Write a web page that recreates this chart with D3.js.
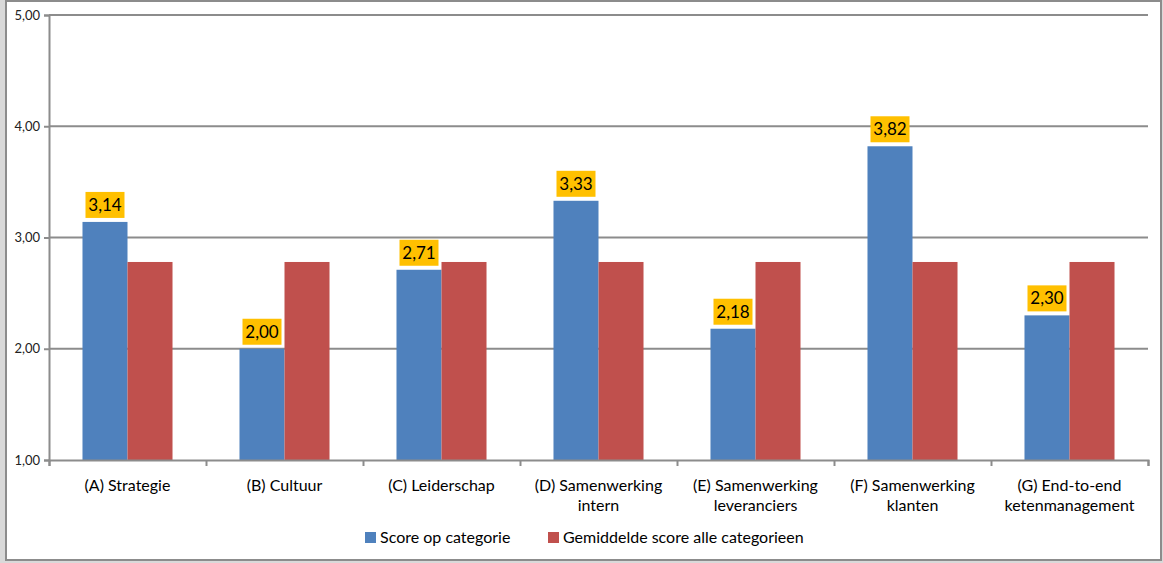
<!DOCTYPE html>
<html>
<head>
<meta charset="utf-8">
<script src="https://cdn.jsdelivr.net/npm/d3@7"></script>
<style>
  body { margin: 0; background: #fff; }
  svg { font-family: Lato, "Open Sans", sans-serif; }
</style>
</head>
<body>
<svg id="chart" width="1163" height="563"></svg>
<script>
// data
var categories = [
  ["(A) Strategie"],
  ["(B) Cultuur"],
  ["(C) Leiderschap"],
  ["(D) Samenwerking", "intern"],
  ["(E) Samenwerking", "leveranciers"],
  ["(F) Samenwerking", "klanten"],
  ["(G) End-to-end", "ketenmanagement"]
]
var scores = [3.14, 2.00, 2.71, 3.33, 2.18, 3.82, 2.30]
var average = [2.78, 2.78, 2.78, 2.78, 2.78, 2.78, 2.78]
var seriesNames = ["Score op categorie", "Gemiddelde score alle categorieen"]
var colors = ["#4f81bd", "#c0504d"]
var yTicks = [1, 2, 3, 4, 5]

var svg = d3.select("#chart")
var W = 1163, H = 563

// outer frame
svg.append("rect").attr("x", 0).attr("y", 0).attr("width", W).attr("height", H).attr("fill", "#d9d9d9")
svg.append("rect").attr("x", 6).attr("y", 1).attr("width", 1155).attr("height", 559)
  .attr("fill", "#fff").attr("stroke", "#8c8c8c").attr("stroke-width", 2)

var plotLeft = 49, plotRight = 1148, plotTop = 15, plotBottom = 460

var x = d3.scaleBand().domain(d3.range(categories.length)).range([plotLeft, plotRight])
var y = d3.scaleLinear().domain([1, 5]).range([plotBottom, plotTop])
var inner = d3.scaleBand().domain([0, 1]).range([0, x.bandwidth()]).paddingInner(0).paddingOuter(0.744)

// gridlines
svg.append("g").selectAll("line").data(yTicks.slice(1)).enter().append("line")
  .attr("x1", plotLeft).attr("x2", plotRight)
  .attr("y1", function(d) { return y(d) }).attr("y2", function(d) { return y(d) })
  .attr("stroke", "#8c8c8c").attr("stroke-width", 2)

// bars
var groups = svg.append("g").selectAll("g").data(categories).enter().append("g")
  .attr("transform", function(d, i) { return "translate(" + x(i) + ",0)" })

groups.append("rect")
  .attr("x", inner(0)).attr("width", inner.bandwidth())
  .attr("y", function(d, i) { return y(scores[i]) })
  .attr("height", function(d, i) { return plotBottom - y(scores[i]) })
  .attr("fill", colors[0])

groups.append("rect")
  .attr("x", inner(1)).attr("width", inner.bandwidth())
  .attr("y", function(d, i) { return y(average[i]) })
  .attr("height", function(d, i) { return plotBottom - y(average[i]) })
  .attr("fill", colors[1])

// value labels
var fmt = function(v) { return d3.format(".2f")(v).replace(".", ",") }
groups.append("rect")
  .attr("x", inner(0) + inner.bandwidth() / 2 - 19.5).attr("width", 39)
  .attr("y", function(d, i) { return y(scores[i]) - 30 }).attr("height", 26)
  .attr("fill", "#ffc000")
groups.append("text")
  .attr("x", inner(0) + inner.bandwidth() / 2)
  .attr("y", function(d, i) { return y(scores[i]) - 11 })
  .attr("text-anchor", "middle").attr("font-size", 17).attr("fill", "#000")
  .text(function(d, i) { return fmt(scores[i]) })

// y axis
var yAxis = svg.append("g").attr("transform", "translate(" + plotLeft + ",0)")
  .call(d3.axisLeft(y).tickValues(yTicks).tickSize(5).tickPadding(4).tickFormat(fmt))
yAxis.select(".domain").attr("stroke", "#8c8c8c").attr("stroke-width", 2)
yAxis.selectAll(".tick line").attr("stroke", "#8c8c8c").attr("stroke-width", 2)
yAxis.selectAll(".tick text").attr("font-size", 13).attr("fill", "#222").attr("font-family", "Lato, sans-serif")

// x axis
var xAxis = svg.append("g").attr("transform", "translate(0," + plotBottom + ")")
  .call(d3.axisBottom(d3.scaleLinear().domain([0, 7]).range([plotLeft, plotRight])).ticks(7).tickSize(6).tickFormat(""))
xAxis.select(".domain").attr("stroke", "#8c8c8c").attr("stroke-width", 2)
xAxis.selectAll(".tick line").attr("stroke", "#8c8c8c").attr("stroke-width", 2)

// category labels
var labels = svg.append("g").selectAll("text").data(categories).enter().append("text")
  .attr("x", function(d, i) { return x(i) + x.bandwidth() / 2 })
  .attr("y", 491)
  .attr("text-anchor", "middle").attr("font-size", 16).attr("fill", "#000")
labels.selectAll("tspan").data(function(d) { return d }).enter().append("tspan")
  .attr("x", function() { return d3.select(this.parentNode).attr("x") })
  .attr("dy", function(d, j) { return j ? 20 : 0 })
  .text(function(d) { return d })

// legend
var legendX = [365, 548]
var legend = svg.append("g").selectAll("g").data(seriesNames).enter().append("g")
  .attr("transform", function(d, i) { return "translate(" + legendX[i] + ",532)" })
legend.append("rect").attr("width", 11).attr("height", 11).attr("fill", function(d, i) { return colors[i] })
legend.append("text").attr("x", 15).attr("y", 11).attr("font-size", 16).attr("fill", "#000").text(function(d) { return d })
</script>
</body>
</html>
